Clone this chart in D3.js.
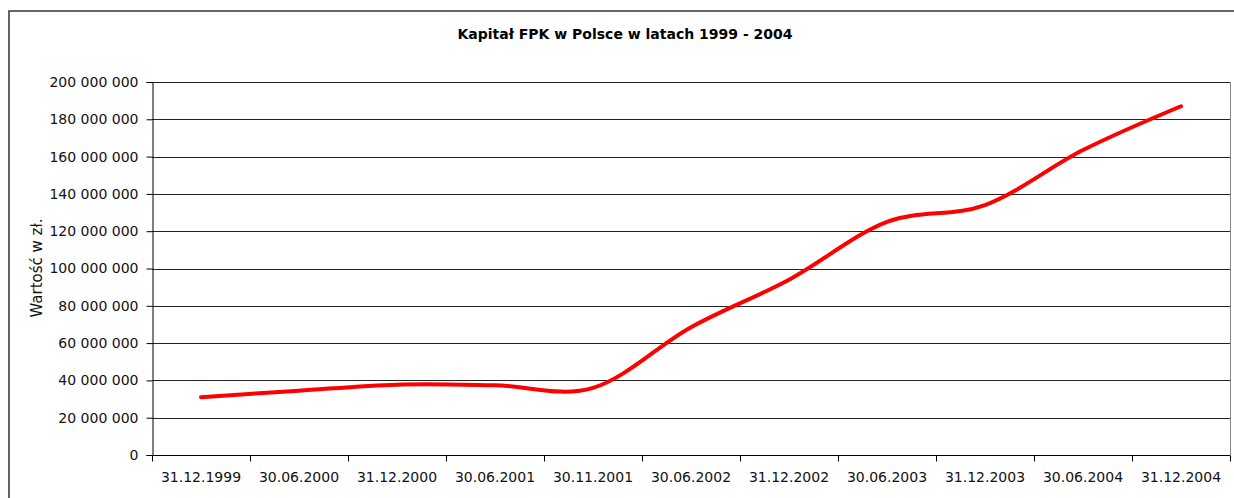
<!DOCTYPE html>
<html>
<head>
<meta charset="utf-8">
<script src="https://cdn.jsdelivr.net/npm/d3@7/dist/d3.min.js"></script>
<style>
  body { margin: 0; background: #fff; }
  svg { display: block; font-family: "DejaVu Sans", sans-serif; }
</style>
</head>
<body>
<svg id="chart" width="1234" height="498"></svg>
<script>
const dates = ['31.12.1999', '30.06.2000', '31.12.2000', '30.06.2001', '30.11.2001',
  '30.06.2002', '31.12.2002', '30.06.2003', '31.12.2003', '30.06.2004', '31.12.2004'];
const capital = [31000000, 34500000, 37700000, 37400000, 36000000,
  68500000, 94000000, 125000000, 134000000, 163500000, 187000000];
const yTicks = [0, 20000000, 40000000, 60000000, 80000000, 100000000,
  120000000, 140000000, 160000000, 180000000, 200000000];

const svg = d3.select('#chart');
const plotLeft = 152, plotRight = 1230, plotTop = 82, plotBottom = 455;

// outer chart frame, runs off the right and bottom edges like the picture
svg.append('rect')
  .attr('x', 9).attr('y', 11)
  .attr('width', 1240).attr('height', 500)
  .attr('fill', 'none')
  .attr('stroke', '#333')
  .attr('stroke-width', 1.5);

svg.append('text')
  .attr('x', 625).attr('y', 39)
  .attr('text-anchor', 'middle')
  .attr('font-size', 14)
  .attr('font-weight', 'bold')
  .text('Kapitał FPK w Polsce w latach 1999 - 2004');

const x = d3.scaleBand().domain(dates).range([plotLeft, plotRight]).padding(0);
const y = d3.scaleLinear().domain([0, 200000000]).range([plotBottom, plotTop]);

const fmt = v => d3.format(',')(v).replace(/,/g, ' ');

// horizontal grid
svg.append('g')
  .selectAll('line')
  .data(yTicks.slice(1))
  .join('line')
  .attr('x1', plotLeft).attr('x2', plotRight)
  .attr('y1', d => Math.round(y(d)) + 0.5)
  .attr('y2', d => Math.round(y(d)) + 0.5)
  .attr('stroke', '#222')
  .attr('stroke-width', 1);

// right edge of plot area
svg.append('line')
  .attr('x1', plotRight + 0.5).attr('x2', plotRight + 0.5)
  .attr('y1', plotTop).attr('y2', plotBottom)
  .attr('stroke', '#888');

const yAxis = svg.append('g')
  .attr('transform', 'translate(' + (plotLeft + 0.5) + ',0)')
  .call(d3.axisLeft(y).tickValues(yTicks).tickFormat(fmt).tickSize(6).tickPadding(8));

const xAxis = svg.append('g')
  .attr('transform', 'translate(0,' + (plotBottom + 0.5) + ')')
  .call(d3.axisBottom(x).tickSize(0).tickPadding(17));

// category boundary ticks
xAxis.selectAll('.bound')
  .data(d3.range(dates.length + 1))
  .join('line')
  .attr('class', 'bound')
  .attr('x1', i => Math.round(plotLeft + i * x.step()) + 0.5)
  .attr('x2', i => Math.round(plotLeft + i * x.step()) + 0.5)
  .attr('y1', 0).attr('y2', 6)
  .attr('stroke', '#000');

[yAxis, xAxis].forEach(g => {
  g.selectAll('text').attr('font-size', 14).attr('fill', '#111')
    .attr('font-family', '"DejaVu Sans", sans-serif');
  g.selectAll('.domain').attr('stroke', '#000');
  g.selectAll('.tick line').attr('stroke', '#000');
});
xAxis.select('.domain').attr('d', 'M' + plotLeft + ',0H' + plotRight);

svg.append('text')
  .attr('transform', 'translate(42,' + 268 + ') rotate(-90)')
  .attr('text-anchor', 'middle')
  .attr('font-size', 15)
  .attr('fill', '#111')
  .text('Wartość w zł.');

const line = d3.line()
  .x((d, i) => x(dates[i]) + x.bandwidth() / 2)
  .y(d => y(d))
  .curve(d3.curveCardinal.tension(0));

svg.append('path')
  .datum(capital)
  .attr('d', line)
  .attr('fill', 'none')
  .attr('stroke', '#ff0000')
  .attr('stroke-width', 4)
  .attr('stroke-linecap', 'round')
  .attr('stroke-linejoin', 'round');
</script>
</body>
</html>
